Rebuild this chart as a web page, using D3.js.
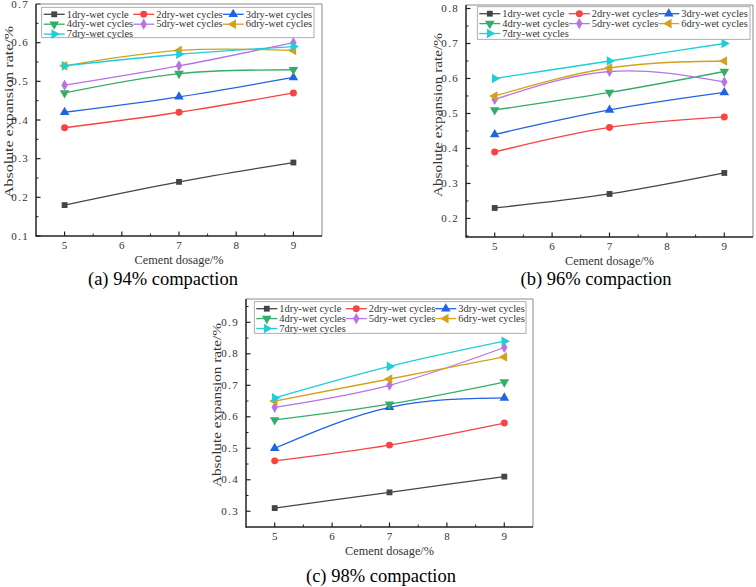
<!DOCTYPE html>
<html>
<head>
<meta charset="utf-8">
<script src="https://cdn.jsdelivr.net/npm/d3@7"></script>
<style>
  body { margin: 0; background: #fff; }
  svg { display: block; }
</style>
</head>
<body>
<svg id="chart" width="756" height="587"></svg>
<script>
// data
const dosages = [5, 7, 9];
const seriesNames = ["1dry-wet cycle", "2dry-wet cycles", "3dry-wet cycles", "4dry-wet cycles",
                     "5dry-wet cycles", "6dry-wet cycles", "7dry-wet cycles"];
const values94 = [
  [0.18, 0.24, 0.29],
  [0.38, 0.42, 0.47],
  [0.42, 0.46, 0.51],
  [0.47, 0.52, 0.53],
  [0.49, 0.54, 0.60],
  [0.54, 0.58, 0.58],
  [0.54, 0.57, 0.59]
];
const values96 = [
  [0.23, 0.27, 0.33],
  [0.39, 0.46, 0.49],
  [0.44, 0.51, 0.56],
  [0.51, 0.56, 0.62],
  [0.54, 0.62, 0.59],
  [0.55, 0.63, 0.65],
  [0.60, 0.65, 0.70]
];
const values98 = [
  [0.31, 0.36, 0.41],
  [0.46, 0.51, 0.58],
  [0.50, 0.63, 0.66],
  [0.59, 0.64, 0.71],
  [0.63, 0.70, 0.82],
  [0.65, 0.72, 0.79],
  [0.66, 0.76, 0.84]
];
const xTicks = [5, 6, 7, 8, 9];
const yTicks94 = [0.1, 0.2, 0.3, 0.4, 0.5, 0.6, 0.7];
const yTicks96 = [0.2, 0.3, 0.4, 0.5, 0.6, 0.7, 0.8];
const yTicks98 = [0.3, 0.4, 0.5, 0.6, 0.7, 0.8, 0.9];
const captions = ["(a) 94% compaction", "(b) 96% compaction", "(c) 98% compaction"];

const colors = ["#454545", "#f94343", "#2063e3", "#35ad68", "#b873e6", "#d4a21a", "#1ccfd8"];
const symbols = [
  { type: d3.symbolSquare, rot: 0, size: 34 },
  { type: d3.symbolCircle, rot: 0, size: 38 },
  { type: d3.symbolTriangle, rot: 0, size: 40 },
  { type: d3.symbolTriangle, rot: 180, size: 40 },
  { type: d3.symbolDiamond, rot: 0, size: 36 },
  { type: d3.symbolTriangle, rot: -90, size: 40 },
  { type: d3.symbolTriangle, rot: 90, size: 40 }
];

const svg = d3.select("#chart");
const serif = "'Liberation Serif', 'Times New Roman', serif";

function drawPanel(cfg) {
  const x = d3.scaleLinear().domain([4.5, 9.5]).range([cfg.left, cfg.right]);
  const y = d3.scaleLinear().domain(cfg.yDomain).range([cfg.bottom, cfg.top]);
  const g = svg.append("g");

  // minor ticks
  const xMinor = [5.5, 6.5, 7.5, 8.5];
  g.selectAll(".xminor").data(xMinor).join("line")
    .attr("x1", d => x(d)).attr("x2", d => x(d))
    .attr("y1", cfg.bottom).attr("y2", cfg.bottom - 2.5)
    .attr("stroke", "#222").attr("stroke-width", 1);
  const yMinor = cfg.yTicks.map(d => d + 0.05).filter(d => d < cfg.yDomain[1]);
  if (cfg.yDomain[0] < cfg.yTicks[0] - 0.05) yMinor.push(cfg.yTicks[0] - 0.05);
  g.selectAll(".yminor").data(yMinor).join("line")
    .attr("x1", cfg.left).attr("x2", cfg.left + 2.5)
    .attr("y1", d => y(d)).attr("y2", d => y(d))
    .attr("stroke", "#222").attr("stroke-width", 1);

  // major ticks
  g.selectAll(".xmajor").data(xTicks).join("line")
    .attr("x1", d => x(d)).attr("x2", d => x(d))
    .attr("y1", cfg.bottom).attr("y2", cfg.bottom - 4.5)
    .attr("stroke", "#222").attr("stroke-width", 1.2);
  g.selectAll(".ymajor").data(cfg.yTicks).join("line")
    .attr("x1", cfg.left).attr("x2", cfg.left + 4.5)
    .attr("y1", d => y(d)).attr("y2", d => y(d))
    .attr("stroke", "#222").attr("stroke-width", 1.2);

  // tick labels
  g.selectAll(".xlab").data(xTicks).join("text")
    .attr("x", d => x(d)).attr("y", cfg.bottom + 13)
    .attr("text-anchor", "middle")
    .attr("font-family", serif).attr("font-size", 11).attr("fill", "#333")
    .text(d => d);
  g.selectAll(".ylab").data(cfg.yTicks).join("text")
    .attr("x", cfg.left - 7).attr("y", d => y(d) + 3.5)
    .attr("text-anchor", "end")
    .attr("font-family", serif).attr("font-size", 11).attr("fill", "#333")
    .attr("letter-spacing", 1.3)
    .text(d => d3.format(".1f")(d));

  // frame: top/right grey, left/bottom dark
  g.append("line").attr("x1", cfg.left).attr("x2", cfg.right).attr("y1", cfg.top).attr("y2", cfg.top)
    .attr("stroke", "#8a8a8a").attr("stroke-width", 1);
  g.append("line").attr("x1", cfg.right).attr("x2", cfg.right).attr("y1", cfg.top).attr("y2", cfg.bottom)
    .attr("stroke", "#8a8a8a").attr("stroke-width", 1);
  g.append("line").attr("x1", cfg.left).attr("x2", cfg.left).attr("y1", cfg.top).attr("y2", cfg.bottom + 0.75)
    .attr("stroke", "#222").attr("stroke-width", 1.5);
  g.append("line").attr("x1", cfg.left).attr("x2", cfg.right).attr("y1", cfg.bottom).attr("y2", cfg.bottom)
    .attr("stroke", "#222").attr("stroke-width", 1.5);

  // series
  const line = d3.line().x((d, i) => x(dosages[i])).y(d => y(d)).curve(d3.curveNatural);
  cfg.values.forEach((vals, s) => {
    g.append("path").attr("d", line(vals))
      .attr("fill", "none").attr("stroke", colors[s]).attr("stroke-width", 1.3);
  });
  cfg.values.forEach((vals, s) => {
    const sym = symbols[s];
    g.selectAll(null).data(vals).join("path")
      .attr("d", d3.symbol().type(sym.type).size(sym.size))
      .attr("transform", (d, i) => `translate(${x(dosages[i])},${y(d)}) rotate(${sym.rot})`)
      .attr("fill", colors[s]);
  });

  // axis titles
  g.append("text")
    .attr("x", (cfg.left + cfg.right) / 2).attr("y", cfg.bottom + 28)
    .attr("text-anchor", "middle")
    .attr("font-family", serif).attr("font-size", 12).attr("fill", "#333")
    .attr("textLength", 89).attr("lengthAdjust", "spacingAndGlyphs")
    .text("Cement dosage/%");
  g.append("text")
    .attr("transform", `translate(${cfg.ytX},${cfg.ytY}) rotate(-90)`)
    .attr("text-anchor", "middle")
    .attr("font-family", serif).attr("font-size", 12).attr("fill", "#333")
    .attr("textLength", cfg.ytLen).attr("lengthAdjust", "spacingAndGlyphs")
    .text("Absolute expansion rate/%");

  // legend
  const lg = g.append("g");
  lg.append("rect")
    .attr("x", cfg.lx).attr("y", cfg.ly).attr("width", cfg.lw).attr("height", cfg.lh)
    .attr("fill", "#fff").attr("stroke", "#9a9a9a").attr("stroke-width", 0.8);
  seriesNames.forEach((name, s) => {
    const col = s % 3, row = Math.floor(s / 3);
    const bx = cfg.lx + 2 + col * 89.5;
    const by = cfg.ly + 7 + row * 9.9;
    lg.append("line").attr("x1", bx).attr("x2", bx + 21).attr("y1", by).attr("y2", by)
      .attr("stroke", colors[s]).attr("stroke-width", 1.3);
    const sym = symbols[s];
    lg.append("path")
      .attr("d", d3.symbol().type(sym.type).size(sym.size))
      .attr("transform", `translate(${bx + 10.5},${by}) rotate(${sym.rot})`)
      .attr("fill", colors[s]);
    lg.append("text")
      .attr("x", bx + 23).attr("y", by + 3.2)
      .attr("font-family", serif).attr("font-size", 9.5).attr("fill", "#333")
      .attr("textLength", name.length * 4.43).attr("lengthAdjust", "spacingAndGlyphs")
      .text(name);
  });

  // caption
  g.append("text")
    .attr("x", cfg.capX).attr("y", cfg.capY)
    .attr("text-anchor", "middle")
    .attr("font-family", serif).attr("font-size", 18.5).attr("fill", "#000")
    .text(cfg.caption);
}

drawPanel({
  left: 36, right: 322, top: 4, bottom: 236, yDomain: [0.1, 0.7], yTicks: yTicks94,
  values: values94, ytX: 13, ytY: 112, ytLen: 172,
  lx: 41.7, ly: 7.3, lw: 272.3, lh: 30.4, capX: 163, capY: 285, caption: captions[0]
});
drawPanel({
  left: 466, right: 753, top: 5, bottom: 237, yDomain: [0.147, 0.81], yTicks: yTicks96,
  values: values96, ytX: 442, ytY: 115, ytLen: 164,
  lx: 477.3, ly: 6.7, lw: 272.7, lh: 32.6, capX: 596, capY: 285, caption: captions[1]
});
drawPanel({
  left: 246, right: 533, top: 299, bottom: 527, yDomain: [0.25, 0.974], yTicks: yTicks98,
  values: values98, ytX: 221, ytY: 405, ytLen: 164,
  lx: 254.3, ly: 301.7, lw: 271.7, lh: 31.6, capX: 381, capY: 582, caption: captions[2]
});
</script>
</body>
</html>
